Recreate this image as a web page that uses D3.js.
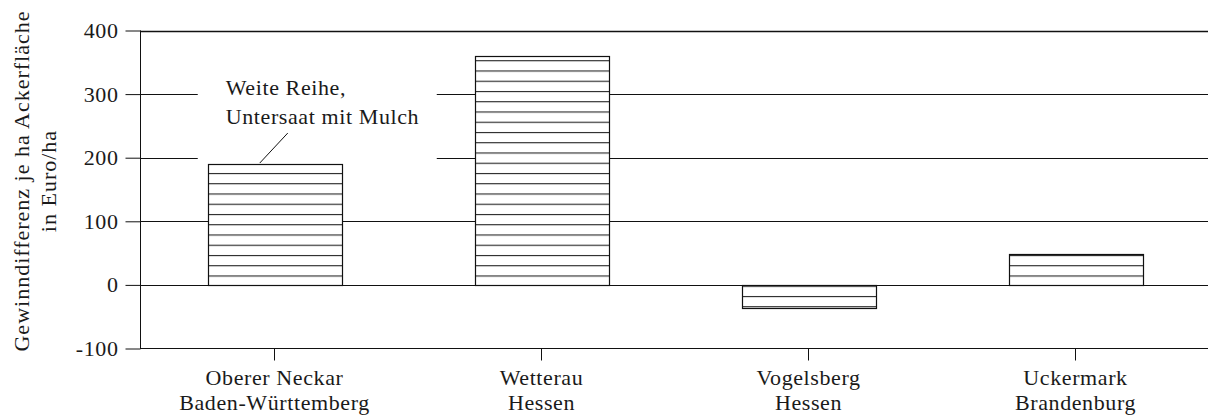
<!doctype html>
<html>
  <head>
    <script src="https://cdnjs.cloudflare.com/ajax/libs/d3/7.8.5/d3.min.js"></script>
  <style>
    body { margin: 0; background: #fff; }
    text { font-family: "Liberation Serif", "Times New Roman", serif; fill: #1a1a1a; letter-spacing: 0.6px; }
  </style>
  </head>
  <body>
    <svg id="chart" width="1208" height="417"></svg>
    <script>
      var regions = ["Oberer Neckar", "Wetterau", "Vogelsberg", "Uckermark"];
      var states = ["Baden-Württemberg", "Hessen", "Hessen", "Brandenburg"];
      var profit = [190, 360, -36, 48];
      var yTicks = [-100, 0, 100, 200, 300, 400];
      var yLabel = ["Gewinndifferenz je ha Ackerfläche", "in Euro/ha"];
      var note = ["Weite Reihe,", "Untersaat mit Mulch"];

      var svg = d3.select("#chart");

      var x = d3.scaleBand().domain(regions).range([141, 1209])
        .paddingInner(0.5).paddingOuter(0.25);
      var y = d3.scaleLinear().domain([-100, 400]).range([348.5, 30.5]);

      // hatch for the bars
      svg.append("defs").append("pattern")
        .attr("id", "hatch")
        .attr("patternUnits", "userSpaceOnUse")
        .attr("x", 0).attr("y", 60.2)
        .attr("width", 20).attr("height", 10.25)
        .call(p => {
          p.append("rect").attr("width", 20).attr("height", 10.25).attr("fill", "#fff");
          p.append("line").attr("x1", 0).attr("x2", 20).attr("y1", 0.5).attr("y2", 0.5)
            .attr("stroke", "#222").attr("stroke-width", 1.2);
        });

      // gridlines
      svg.append("g").selectAll("line")
        .data(yTicks.filter(d => d > -100))
        .enter().append("line")
          .attr("x1", 140).attr("x2", 1208)
          .attr("y1", d => Math.round(y(d)) + 0.5)
          .attr("y2", d => Math.round(y(d)) + 0.5)
          .attr("stroke", "#111").attr("stroke-width", d => d == 400 ? 1.6 : 1);

      // white box behind the note
      svg.append("rect")
        .attr("x", x(regions[0]) - 10).attr("y", y(330))
        .attr("width", 239).attr("height", y(195) - y(330))
        .attr("fill", "#fff");

      var yAxis = d3.axisLeft(y).tickValues(yTicks).tickSize(15).tickPadding(7)
        .tickFormat(d => String(d));
      svg.append("g").attr("id", "yAxisG")
        .attr("transform", "translate(140.5,0)")
        .call(yAxis)
        .call(g => {
          g.select(".domain").remove();
          g.selectAll("text").style("font-size", "22px").attr("fill", "#1a1a1a")
            .attr("font-family", null);
          g.selectAll("line").attr("stroke", "#111");
        });

      svg.append("line")
        .attr("x1", 140.5).attr("x2", 140.5)
        .attr("y1", y(400)).attr("y2", y(-100))
        .attr("stroke", "#111");

      // bars
      svg.selectAll("rect.bar")
        .data(profit)
        .enter().append("rect")
          .attr("class", "bar")
          .attr("x", (d, i) => Math.round(x(regions[i])) + 0.5)
          .attr("width", Math.round(x.bandwidth()))
          .attr("y", d => Math.round(y(Math.max(0, d))) + 0.5)
          .attr("height", d => Math.round(Math.abs(y(d) - y(0))))
          .attr("fill", "url(#hatch)")
          .attr("stroke", "#111").attr("stroke-width", 1.2);

      // bottom axis
      svg.append("line")
        .attr("x1", 140).attr("x2", 1208)
        .attr("y1", y(-100)).attr("y2", y(-100))
        .attr("stroke", "#111");

      var xg = svg.append("g").selectAll("g.cat")
        .data(regions)
        .enter().append("g").attr("class", "cat")
          .attr("transform", d => "translate(" + (x(d) + x.bandwidth() / 2) + ",0)");
      xg.append("line")
        .attr("y1", y(-100)).attr("y2", y(-100) + 12)
        .attr("stroke", "#111");
      xg.append("text")
        .attr("text-anchor", "middle").attr("y", 385)
        .style("font-size", "22px")
        .text(d => d);
      xg.append("text")
        .attr("text-anchor", "middle").attr("y", 410)
        .style("font-size", "22px")
        .text((d, i) => states[i]);

      // y label
      svg.append("g")
        .attr("transform", "translate(29,181) rotate(-90)")
        .selectAll("text")
        .data(yLabel)
        .enter().append("text")
          .attr("text-anchor", "middle")
          .attr("y", (d, i) => i * 27)
          .style("font-size", "22px")
          .style("letter-spacing", "1px")
          .text(d => d);

      // note with leader line
      var bx = x(regions[0]);
      svg.selectAll("text.note")
        .data(note)
        .enter().append("text")
          .attr("class", "note")
          .attr("x", bx + 18)
          .attr("y", (d, i) => 95 + i * 29)
          .style("font-size", "22px")
          .text(d => d);
      svg.append("line")
        .attr("x1", bx + 80).attr("y1", y(190) - 31)
        .attr("x2", bx + 52).attr("y2", y(190) - 1)
        .attr("stroke", "#111");
    </script>
  </body>
</html>
